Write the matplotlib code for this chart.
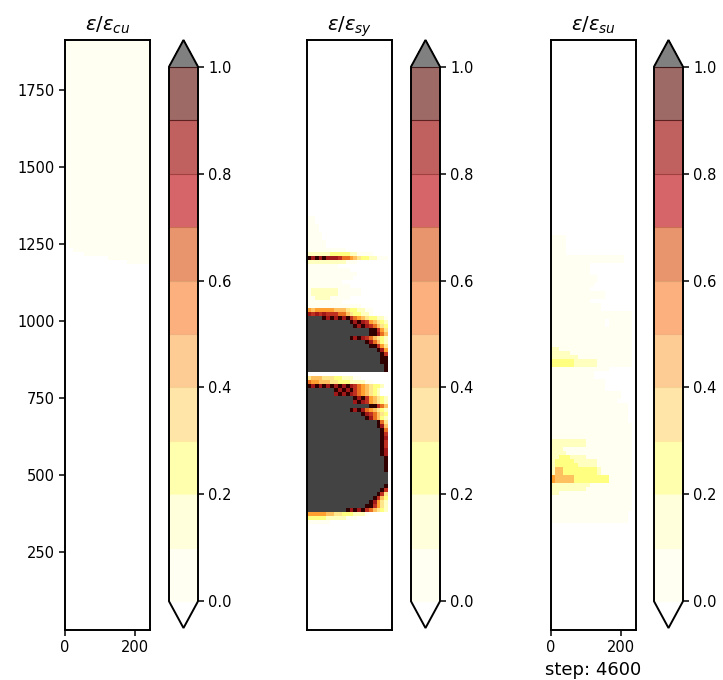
import numpy as np
import matplotlib
matplotlib.use('Agg')
import matplotlib.pyplot as plt
from matplotlib.colors import ListedColormap, BoundaryNorm
from matplotlib.cm import ScalarMappable

# strain ratio per cell, one char per column, rows listed from the top
# '.' = nothing, 0-9 = tenths of the limit, X = past the limit
levels = [0.0, 0.1, 0.2, 0.3, 0.4, 0.5, 0.6, 0.7, 0.8, 0.9, 1.0]
cbar_ticks = [0.0, 0.2, 0.4, 0.6, 0.8, 1.0]
titles = [r'$\epsilon/\epsilon_{cu}$', r'$\epsilon/\epsilon_{sy}$', r'$\epsilon/\epsilon_{su}$']

cu_top = 1912
cu_rows = ['0000000000000000000000'] * 50 + [
    '.000000000000000000000',
    '.000000000000000000000',
    '..00000000000000000000',
    '.....00000000000000000',
    '...........00000000000',
    '................000000',
]

sy_top = 1341
sy_rows = [
    '00',
    '00',
    '000',
    '000',
    '0000',
    '0000',
    '00000',
    '00000',
    '0000000000',
    '11111122222110000',
    '9898988876654322110000',
    '1111111111000',
    '00000000',
    '00000000000',
    '0000000000000',
    '000000000000',
    '000000000',
    '00000000000',
    '01111111000000',
    '01111111000000',
    '00111100000',
    '000000000',
    '00000000000000',
    '54555554443221100',
    '87878777664322110',
    'XXXX98989897654322110',
    'XXXXXXXXXXX9898754321',
    'XXXXXXXXXXXX989876432',
    'XXXXXXXXXXXXXXXX99753',
    'XXXXXXXXXXXXXXXX99864',
    'XXXXXXXXXXX9898764321',
    'XXXXXXXXXXXXXXX986421',
    'XXXXXXXXXXXXXXXX99753',
    'XXXXXXXXXXXXXXXXXX985',
    'XXXXXXXXXXXXXXXXXXX97',
    'XXXXXXXXXXXXXXXXXXX99',
    'XXXXXXXXXXXXXXXXXXX99',
    'XXXXXXXXXXXXXXXXXXXX9',
    'XXXXXXXXXXXXXXXXXXXX9',
    '',
    '34443332211100',
    '65544433222111100',
    '98989898989876543221',
    'XXXXXXX989897654321',
    'XXXXXXX898987654321',
    'XXXXXXXXXXXX989754321',
    'XXXXXXXXXXXX898754321',
    'XXXXXXXXXXXXXXXX99764',
    'XXXXXXXXXXX9898654321',
    'XXXXXXXXXXXXXX9876432',
    'XXXXXXXXXXXXXXX986421',
    'XXXXXXXXXXXXXXXXXX963',
    'XXXXXXXXXXXXXXXXXX984',
    'XXXXXXXXXXXXXXXXXXX96',
    'XXXXXXXXXXXXXXXXXXX97',
    'XXXXXXXXXXXXXXXXXXX98',
    'XXXXXXXXXXXXXXXXXXX97',
    'XXXXXXXXXXXXXXXXXXX97',
    'XXXXXXXXXXXXXXXXXXX98',
    'XXXXXXXXXXXXXXXXXXX98',
    'XXXXXXXXXXXXXXXXXXXX9',
    'XXXXXXXXXXXXXXXXXXXX9',
    'XXXXXXXXXXXXXXXXXXXX9',
    'XXXXXXXXXXXXXXXXXXXX9',
    'XXXXXXXXXXXXXXXXXXXXX',
    'XXXXXXXXXXXXXXXXXXXXX',
    'XXXXXXXXXXXXXXXXXXXXX',
    'XXXXXXXXXXXXXXXXXXXX9',
    'XXXXXXXXXXXXXXXXXXX97',
    'XXXXXXXXXXXXXXXXXX973',
    'XXXXXXXXXXXXXXXXX9742',
    'XXXXXXXXXXXXXXXX98531',
    'XXXXXXXXXXXXXXX997531',
    'XXXXXXXXXX98989764321',
    '5555544332221110',
    '2222211111000',
    '000000',
]

su_top = 1280
su_rows = [
    '0000',
    '0000',
    '0000',
    '0000',
    '0000',
    '0000000000000000000',
    '0000000000000000000',
    '0000000000',
    '0000000000',
    '0000000000',
    '000000000000',
    '000000000000',
    '00000000000',
    '0000000000',
    '00000000000000',
    '00000000000000',
    '0000000000',
    '0000000000000',
    '0000000000000',
    '000000000000000000000',
    '000000000000000000000',
    '00000000000000.000000',
    '00000000000000.000000',
    '000000000000000000000',
    '000000000000000000000',
    '000000000000000000000',
    '000000000000000000000',
    '000000000000000000000',
    '110000000000000000000',
    '111110000000000000000',
    '111111100000000000000',
    '222222111111000000000',
    '222222111111000000000',
    '000000000000000',
    '00000000000',
    '00000000000',
    '00000000000000',
    '00000000000000',
    '00000000000000',
    '000000000000000000',
    '000000000000000000',
    '00000000000000000',
    '00000000000000000000',
    '00000000000000000000',
    '00000000000000000000',
    '00000000000000000000',
    '00000000000000000000',
    '000000000000000000000',
    '000000000000000000000',
    '000000000000000000000',
    '000000000000000000000',
    '111111111000000000000',
    '111111111000000000000',
    '111000000000000000000',
    '111100000000000000000',
    '112221111000000000000',
    '122222111111000000000',
    '122222211111000000000',
    '144222222222100000000',
    '144222222222100000000',
    '544444222222222000000',
    '544444222222222000000',
    '111111111100000000000',
    '111111111000000000000',
    '110000000000000000000',
    '000000000000000000000',
    '000000000000000000000',
    '000000000000000000000',
    '000000000000000000000',
    '00000000000000000000',
    '00000000000000000000',
    '00000000000000000000',
]

col_width = 11.05
row_height = 13.0

bar_colors = ['#FFFFF2', '#FFFFDC', '#FFFFAE', '#FFE6A8', '#FDCB94',
              '#FBB07E', '#E8946C', '#D6656A', '#C0605F', '#9D6A66']
cell_colors = ['#FFFFF2', '#FFFFC0', '#FFFF80', '#FFE68A', '#FFC060',
               '#FFA030', '#E87020', '#C03020', '#A01818', '#300000']

cell_cmap = ListedColormap(cell_colors)
cell_cmap.set_over('#434343')
cell_cmap.set_under('white')
bar_cmap = ListedColormap(bar_colors)
bar_cmap.set_over('#808080')
bar_cmap.set_under('white')
cell_norm = BoundaryNorm(levels, cell_cmap.N)
bar_norm = BoundaryNorm(levels, bar_cmap.N)


def to_grid(rows, n_cols):
    out = np.full((len(rows), n_cols), -1.0)
    for i, row in enumerate(rows):
        for j, ch in enumerate(row[:n_cols]):
            if ch == 'X':
                out[i, j] = 1.5
            elif ch != '.':
                out[i, j] = int(ch) / 10 + 0.05
    return out


W, H = 723.0, 680.0
fig = plt.figure(figsize=(W / 100, H / 100), dpi=100)


def px_axes(x0, x1, y0, y1):
    return fig.add_axes([x0 / W, 1 - y1 / H, (x1 - x0) / W, (y1 - y0) / H])


panels = [(cu_rows, cu_top, 22, 65, 169), (sy_rows, sy_top, 21, 307, 411), (su_rows, su_top, 21, 551, 654)]
for i, (rows, top, n_cols, ax_x, bar_x) in enumerate(panels):
    ax = px_axes(ax_x, ax_x + 85, 40, 630)
    grid = to_grid(rows, n_cols)
    x_edges = np.arange(n_cols + 1) * col_width
    y_edges = top - np.arange(len(rows) + 1) * row_height
    ax.pcolormesh(x_edges, y_edges, grid, cmap=cell_cmap, norm=cell_norm)
    ax.set_xlim(0, 243)
    ax.set_ylim(-3, 1912)
    ax.set_title(titles[i], fontsize=14, pad=7)
    ax.tick_params(labelsize=10.5, width=1.1, length=4)
    for s in ax.spines.values():
        s.set_linewidth(1.4)
    if i == 0:
        ax.set_yticks([250, 500, 750, 1000, 1250, 1500, 1750])
    else:
        ax.set_yticks([])
    if i == 1:
        ax.set_xticks([])
    else:
        ax.set_xticks([0, 200])
    if i == 2:
        ax.set_xlabel('step: 4600', fontsize=13, labelpad=4)

    cax = px_axes(bar_x, bar_x + 29, 40, 628)
    sm = ScalarMappable(norm=bar_norm, cmap=bar_cmap)
    cb = fig.colorbar(sm, cax=cax, extend='both', extendfrac=0.05, ticks=cbar_ticks,
                      spacing='uniform', drawedges=True)
    cb.ax.minorticks_off()
    cb.ax.tick_params(labelsize=10.5, width=1.1, length=4)
    cb.ax.set_yticklabels(['%.1f' % t for t in cbar_ticks])
    cb.outline.set_linewidth(1.4)
    n_div = len(cb.dividers.get_segments())
    div_colors = ['#FFFFF2', '#FFFFDC', '#FFFFC0', '#FFE8A0', '#F5D090', '#F0B080', '#E0A070',
                  '#C87050', '#A04040', '#602020', '#401818', '#000000', '#000000']
    cb.dividers.set_color(div_colors[:n_div])
    cb.dividers.set_linewidth(0.8)

fig.savefig('out.png', dpi=100)
